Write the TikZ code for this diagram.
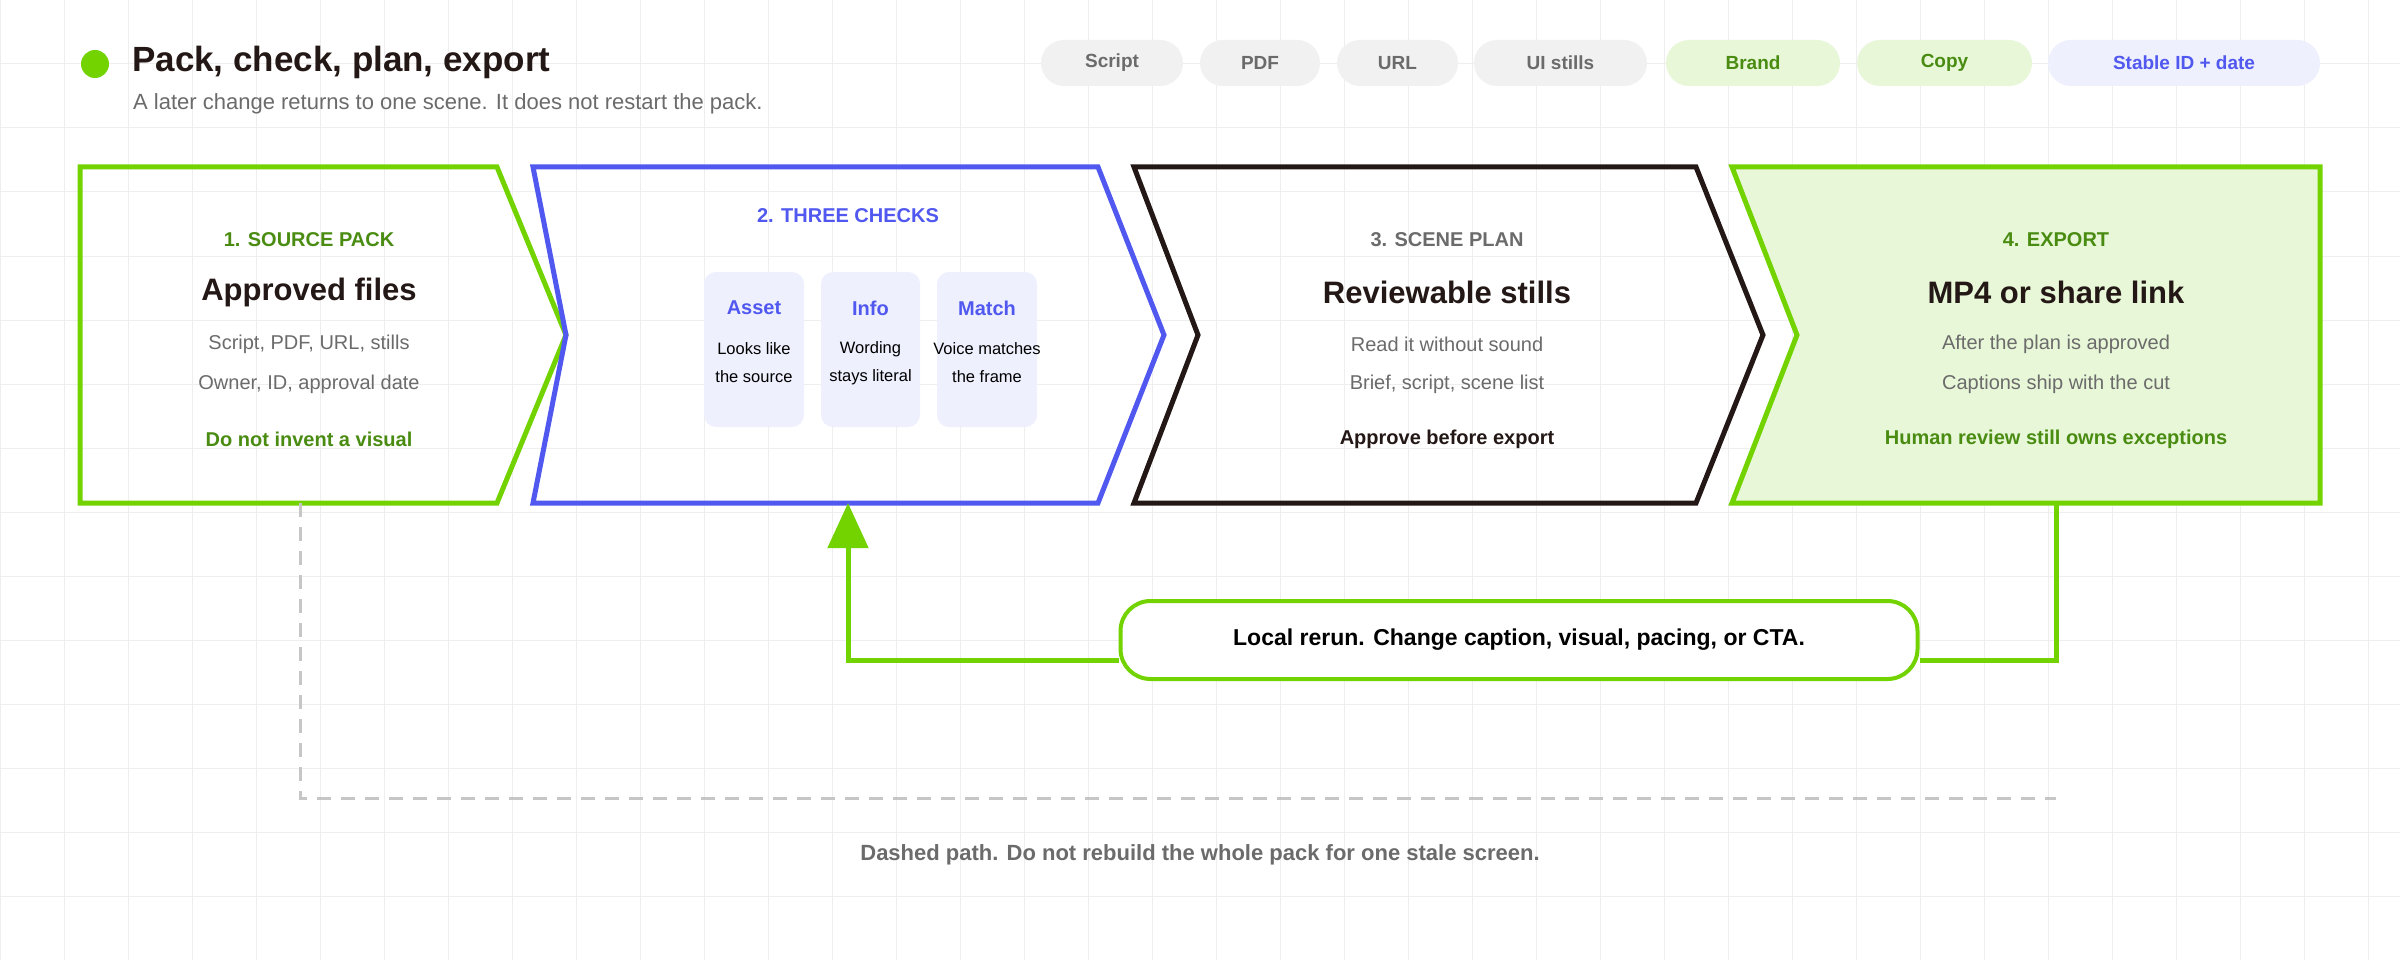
\documentclass[tikz,border=0pt]{standalone}
\usepackage{fontspec}
\setmainfont{Liberation Sans}
\usetikzlibrary{arrows.meta}
\definecolor{gr}{HTML}{72D300}
\definecolor{grt}{HTML}{4A8C12}
\definecolor{grf}{HTML}{E8F7D8}
\definecolor{bl}{HTML}{5058F0}
\definecolor{blf}{HTML}{EEF0FD}
\definecolor{dk}{HTML}{231815}
\definecolor{gt}{HTML}{6B6B6B}
\definecolor{gp}{HTML}{F1F1F1}
\definecolor{grid}{HTML}{EEEEEE}
\begin{document}
\begin{tikzpicture}[x=1pt,y=-1pt,
 fs/.style={font=\fontsize{#1}{#1}\selectfont},
 lab/.style={fs=20,font=\bfseries\fontsize{20}{20}\selectfont},
 head/.style={font=\bfseries\fontsize{31}{31}\selectfont,text=dk},
 sub/.style={font=\fontsize{20}{20}\selectfont,text=gt},
 pill/.style={rounded corners=23pt,minimum height=46pt,inner sep=0pt,font=\bfseries\fontsize{19}{19}\selectfont},
 card/.style={fill=blf,rounded corners=12pt},
 ctitle/.style={font=\bfseries\fontsize{20}{20}\selectfont,text=bl},
 ctext/.style={font=\fontsize{16.5}{16.5}\selectfont,text=black},
 box/.style={line width=5pt,line join=miter}]
\useasboundingbox (0,0) rectangle (2400,960);
\fill[white] (0,0) rectangle (2400,960);
\foreach \x in {0,64,...,2400} \draw[grid,line width=1pt] (\x,0) -- (\x,960);
\foreach \y in {0,64,...,960} \draw[grid,line width=1pt] (0,\y) -- (2400,\y);
% title
\fill[gr] (95,64) circle (14);
\node[anchor=west,inner sep=0,font=\bfseries\fontsize{35}{35}\selectfont,text=dk] (title) at (132,62) {Pack, check, plan, export};
\node[anchor=west,inner sep=0,font=\fontsize{22}{22}\selectfont,text=gt] (subt) at (133,104) {A later change returns to one scene. It does not restart the pack.};
% pills
\foreach \a/\b/\t/\f/\c [count=\i] in {1041/1183/Script/gp/gt,1200/1320/PDF/gp/gt,1337/1458/URL/gp/gt,1474/1647/UI stills/gp/gt,1666/1840/Brand/grf/grt,1857/2032/Copy/grf/grt,2048/2320/Stable ID + date/blf/bl}
 \node[pill,fill=\f,text=\c,minimum width={\b-\a}] (p\i) at ({(\a+\b)/2},63) {\t};
% boxes
\draw[box,gr] (80,167) -- (497,167) -- (566,335) -- (497,503) -- (80,503) -- cycle;
\draw[box,bl] (533,167) -- (1098,167) -- (1164,335) -- (1098,503) -- (533,503) -- (566,335) -- cycle;
\draw[box,dk] (1134,167) -- (1696,167) -- (1763,335) -- (1696,503) -- (1134,503) -- (1198,335) -- cycle;
\draw[box,gr,fill=grf] (1732,167) -- (2320,167) -- (2320,503) -- (1732,503) -- (1797,335) -- cycle;
\coordinate (b1) at (300,503);
\coordinate (b2) at (848,503);
\coordinate (b4) at (2056,503);
% box1 text
\node[lab,text=grt] (l1) at (309,240) {1. SOURCE PACK};
\node[head] (h1) at (309,292) {Approved files};
\node[sub] (s1a) at (309,344) {Script, PDF, URL, stills};
\node[sub] (s1b) at (309,384) {Owner, ID, approval date};
\node[lab,text=grt] (e1) at (309,439) {Do not invent a visual};
% box2
\node[lab,text=bl] (l2) at (848,216) {2. THREE CHECKS};
\foreach \a/\b/\t/\u/\v [count=\i] in {704/804/Asset/Looks like/the source,821/920/Info/Wording/stays literal,937/1037/Match/Voice matches/the frame}{
 \fill[card] (\a,272) rectangle (\b,427);
 \node[ctitle] (c\i) at ({(\a+\b)/2},308) {\t};
 \node[ctext] (c\i a) at ({(\a+\b)/2},349) {\u};
 \node[ctext] (c\i b) at ({(\a+\b)/2},377) {\v};
}
% box3
\node[lab,text=gt] (l3) at (1447,240) {3. SCENE PLAN};
\node[head] (h3) at (1447,292) {Reviewable stills};
\node[sub] (s3a) at (1447,344) {Read it without sound};
\node[sub] (s3b) at (1447,384) {Brief, script, scene list};
\node[lab,text=dk] (e3) at (1447,439) {Approve before export};
% box4
\node[lab,text=grt] (l4) at (2056,240) {4. EXPORT};
\node[head] (h4) at (2056,292) {MP4 or share link};
\node[sub] (s4a) at (2056,344) {After the plan is approved};
\node[sub] (s4b) at (2056,384) {Captions ship with the cut};
\node[lab,text=grt] (e4) at (2056,439) {Human review still owns exceptions};
% dashed
\coordinate (d1) at (300,798);
\coordinate (d2) at (2056,798);
\draw[gray!45,line width=3pt,dash pattern=on 14pt off 10pt] (b1) -- (d1) -- (d2);
\node[font=\bfseries\fontsize{22}{22}\selectfont,text=gt] (bt) at (1200,855) {Dashed path. Do not rebuild the whole pack for one stale screen.};
% feedback loop
\node[draw=gr,line width=4pt,fill=white,rounded corners=30pt,minimum width=797pt,minimum height=78pt,inner sep=0pt,font=\bfseries\fontsize{23}{23}\selectfont,text=black] (loop) at (1519,640) {Local rerun. Change caption, visual, pacing, or CTA.};
\coordinate (k1) at (2056,660);
\coordinate (k2) at (848,660);
\draw[gr,line width=5pt] (b4) -- (k1) -- (loop.east |- k1);
\draw[gr,line width=5pt,-{Triangle[length=45pt,width=40pt]}] (loop.west |- k2) -- (k2) -- (b2);
\end{tikzpicture}
\end{document}
